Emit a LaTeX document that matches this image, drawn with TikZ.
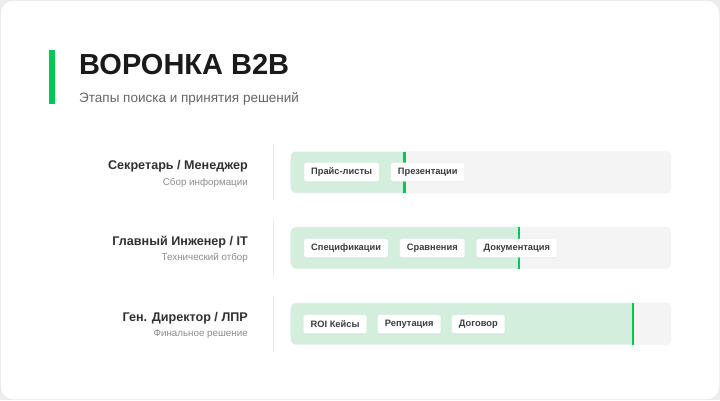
\documentclass[tikz,border=0pt]{standalone}
\usepackage{fontspec}
\setmainfont{Liberation Sans}
\usetikzlibrary{positioning,shadows}
\definecolor{funnelgreen}{HTML}{00C853}
\definecolor{softgreen}{HTML}{D3EEDC}
\definecolor{trackgray}{HTML}{F4F4F4}
\definecolor{inkdark}{HTML}{1A1A1A}
\tikzset{
	role/.style={anchor=base east,inner sep=0,text=inkdark!90,font=\bfseries\fontsize{12.6}{14}\selectfont},
	rolesub/.style={anchor=base east,inner sep=0,text=black!45,font=\fontsize{9.8}{11}\selectfont},
	track/.style={fill=trackgray,rounded corners=6pt,minimum width=380pt,minimum height=41pt,inner sep=0},
	trackline/.style={draw=black!7,rounded corners=6pt},
	marker/.style={draw=funnelgreen,line width=2.3pt},
	sep/.style={draw=black!8,line width=0.8pt},
	tag/.style={fill=white,draw=black!5,rounded corners=2pt,inner xsep=7pt,inner ysep=0,minimum height=18.5pt,text=inkdark!85,font=\bfseries\fontsize{9.3}{10}\selectfont,drop shadow={shadow xshift=0pt,shadow yshift=-0.8pt,opacity=0.08}},
}

\begin{document}
\begin{tikzpicture}[x=1pt,y=-1pt]
	\fill[black!7] (0,0) rectangle (720,400);
	\useasboundingbox (0,0) rectangle (720,400);
	\draw[fill=white,draw=black!12,rounded corners=12pt] (0.5,0.5) rectangle (719.5,399.5);
	% header
	\fill[funnelgreen] (49,49.5) rectangle (55,103.5);
	\node[anchor=base west,inner sep=0,text=inkdark,font=\bfseries\fontsize{29}{31}\selectfont] (title) at (79,74.3) {ВОРОНКА B2B};
	\node[anchor=base west,inner sep=0,text=black!60,font=\fontsize{13.5}{15}\selectfont] (subtitle) at (79,102) {Этапы поиска и принятия решений};
	% roles
	\node[role] (role1) at (248,169.3) {Секретарь / Менеджер};
	\node[rolesub] (sub1) at (248,185) {Сбор информации};
	\node[role] (role2) at (248,245.3) {Главный Инженер / IT};
	\node[rolesub] (sub2) at (248,260.8) {Технический отбор};
	\node[role] (role3) at (248,321.5) {Ген. Директор / ЛПР};
	\node[rolesub] (sub3) at (248,336.8) {Финальное решение};
	\draw[sep] (273.3,144) -- (273.3,199.5);
	\draw[sep] (273.3,220) -- (273.3,276);
	\draw[sep] (273.3,296) -- (273.3,352);
	% tracks
	\foreach \i/\y/\m in {1/172.2/404.6,2/247.8/519.3,3/323.8/633.2}{
		\node[track] (track\i) at (480.8,\y) {};
		\coordinate (mark\i) at (\m,\y);
		\begin{scope}
			\clip[rounded corners=6pt] (track\i.south west) rectangle (track\i.north east);
			\fill[softgreen] (track\i.south west) rectangle (mark\i |- track\i.north);
		\end{scope}
		\draw[trackline] (track\i.south west) rectangle (track\i.north east);
		\draw[marker] (mark\i |- track\i.north) -- (mark\i |- track\i.south);
	}
	% tags
	\node[tag,anchor=west] (price) at (304,172) {Прайс-листы};
	\node[tag,right=11.5pt of price] (slides) {Презентации};
	\node[tag,anchor=west] (specs) at (304,248.2) {Спецификации};
	\node[tag,right=11.5pt of specs] (compare) {Сравнения};
	\node[tag,right=11.5pt of compare] (docs) {Документация};
	\node[tag,anchor=west] (roi) at (303.5,324.2) {ROI Кейсы};
	\node[tag,right=11pt of roi] (reput) {Репутация};
	\node[tag,right=11pt of reput] (deal) {Договор};
\end{tikzpicture}
\end{document}
